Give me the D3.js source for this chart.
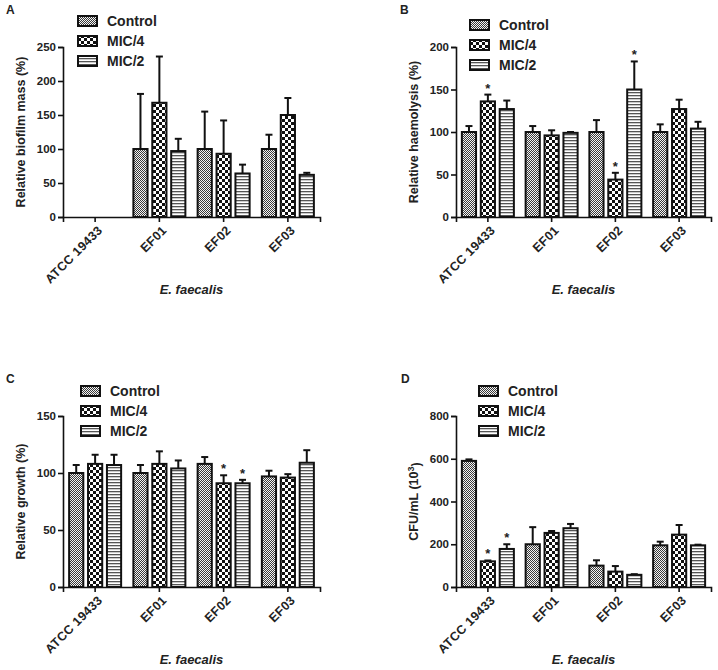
<!DOCTYPE html>
<html>
<head>
<meta charset="utf-8">
<script src="https://cdn.jsdelivr.net/npm/d3@7"></script>
<style>
  body { margin: 0; background: #fff; }
  text { font-family: "Liberation Sans", Arial, sans-serif; fill: #222; }
  .tick text { font-size: 11px; font-weight: bold; }
  .axis-label { font-size: 12.5px; font-weight: bold; }
  .legend text { font-size: 14px; font-weight: bold; }
</style>
</head>
<body>
<svg width="718" height="670"></svg>
<script>
const strains = ['ATCC 19433', 'EF01', 'EF02', 'EF03'];
const groups = ['Control', 'MIC/4', 'MIC/2'];

// values per group: [Control, MIC/4, MIC/2], each across strains
const biofilmMean = [[null, 100, 100, 100], [null, 168, 93, 150], [null, 97, 64, 62]];
const biofilmErr  = [[null, 81, 55, 21], [null, 68, 49, 25], [null, 18, 13, 3]];
const biofilmStar = [];

const haemoMean = [[100, 100, 100, 100], [136, 96, 44, 127], [127, 99, 150, 104]];
const haemoErr  = [[7, 7, 14, 9], [8, 6, 8, 11], [10, 1, 33, 8]];
const haemoStar = [[1, 0], [1, 2], [2, 2]]; // [group, strain]

const growthMean = [[100, 100, 108, 97], [108, 108, 91, 96], [107, 104, 91, 109]];
const growthErr  = [[7, 7, 6, 5], [8, 11, 7, 3], [9, 7, 3, 11]];
const growthStar = [[1, 2], [2, 2]];

const cfuMean = [[590, 200, 100, 195], [120, 253, 72, 245], [178, 275, 57, 195]];
const cfuErr  = [[7, 80, 25, 17], [4, 9, 26, 45], [22, 20, 3, 3]];
const cfuStar = [[1, 0], [2, 0]];

const biofilmTicks = [0, 50, 100, 150, 200, 250];
const haemoTicks = [0, 50, 100, 150, 200];
const growthTicks = [0, 50, 100, 150];
const cfuTicks = [0, 200, 400, 600, 800];

const svg = d3.select('svg');

// fill patterns
const defs = svg.append('defs');
const pCtrl = defs.append('pattern').attr('id', 'pat0')
  .attr('patternUnits', 'userSpaceOnUse').attr('width', 2).attr('height', 2);
pCtrl.append('rect').attr('width', 2).attr('height', 2).attr('fill', '#f4f4f4');
pCtrl.append('rect').attr('width', 1).attr('height', 1).attr('fill', '#3a3a3a');
pCtrl.append('rect').attr('x', 1).attr('y', 1).attr('width', 1).attr('height', 1).attr('fill', '#3a3a3a');

const pMic4 = defs.append('pattern').attr('id', 'pat1')
  .attr('patternUnits', 'userSpaceOnUse').attr('width', 6).attr('height', 6);
pMic4.append('rect').attr('width', 6).attr('height', 6).attr('fill', '#111');
pMic4.append('rect').attr('width', 3).attr('height', 3).attr('fill', '#fff');
pMic4.append('rect').attr('x', 3).attr('y', 3).attr('width', 3).attr('height', 3).attr('fill', '#fff');

const pMic2 = defs.append('pattern').attr('id', 'pat2')
  .attr('patternUnits', 'userSpaceOnUse').attr('width', 3).attr('height', 3);
pMic2.append('rect').attr('width', 3).attr('height', 3).attr('fill', '#fff');
pMic2.append('rect').attr('width', 3).attr('height', 1.3).attr('fill', '#555');

const render = cfg => {
  const { left, top, width, height } = cfg;
  const g = svg.append('g').attr('transform', `translate(${left},${top})`);

  const xScale = d3.scaleBand().domain(strains).range([0, width]);
  const xInner = d3.scaleBand().domain(groups).range([-26, 26]).paddingInner(0.25);
  const yScale = d3.scaleLinear().domain([0, d3.max(cfg.ticks)]).range([height, 0]);

  const yAxis = d3.axisLeft(yScale).tickValues(cfg.ticks).tickSize(5).tickPadding(2);
  const xAxis = d3.axisBottom(xScale).tickSize(5).tickPadding(3);

  const yAxisG = g.append('g').call(yAxis);
  const xAxisG = g.append('g').attr('transform', `translate(0,${height})`).call(xAxis);
  [yAxisG, xAxisG].forEach(a => {
    a.select('.domain').attr('stroke', '#111').attr('stroke-width', 1.6);
    a.selectAll('.tick line').attr('stroke', '#111').attr('stroke-width', 1.6);
  });
  yAxisG.selectAll('.tick text').attr('fill', '#222').style('font-size', '11.5px');
  xAxisG.selectAll('.tick text')
    .attr('fill', '#222')
    .style('font-size', '12.5px')
    .style('letter-spacing', '0.3px')
    .attr('text-anchor', 'end')
    .attr('dy', '0.35em')
    .attr('transform', 'translate(5,11) rotate(-45)')
    .attr('x', 0).attr('y', 0);

  // bars
  groups.forEach((grp, gi) => {
    strains.forEach((s, si) => {
      const v = cfg.mean[gi][si];
      if (v == null) return;
      const e = cfg.err[gi][si];
      const cx = xScale(s) + xScale.bandwidth() / 2;
      const bx = cx + xInner(grp);
      const bw = xInner.bandwidth();
      const mid = bx + bw / 2;
      g.append('line')
        .attr('x1', mid).attr('x2', mid)
        .attr('y1', yScale(v)).attr('y2', yScale(v + e))
        .attr('stroke', '#111').attr('stroke-width', 2);
      g.append('line')
        .attr('x1', mid - 3.5).attr('x2', mid + 3.5)
        .attr('y1', yScale(v + e)).attr('y2', yScale(v + e))
        .attr('stroke', '#111').attr('stroke-width', 2);
      g.append('rect')
        .attr('x', bx).attr('y', yScale(v))
        .attr('width', bw).attr('height', height - yScale(v))
        .attr('fill', `url(#pat${gi})`)
        .attr('stroke', '#111').attr('stroke-width', 2);
    });
  });

  // significance marks
  cfg.stars.forEach(([gi, si]) => {
    const v = cfg.mean[gi][si] + cfg.err[gi][si];
    const cx = xScale(strains[si]) + xScale.bandwidth() / 2 + xInner(groups[gi]) + xInner.bandwidth() / 2;
    g.append('text')
      .attr('x', cx).attr('y', yScale(v) - 2)
      .attr('text-anchor', 'middle')
      .style('font-size', '13px').style('font-weight', 'bold')
      .text('*');
  });

  // axis titles
  const yl = g.append('text')
    .attr('class', 'axis-label')
    .attr('transform', `translate(-38,${height / 2}) rotate(-90)`)
    .attr('text-anchor', 'middle');
  yl.append('tspan').text(cfg.yLabel);
  if (cfg.sup) {
    yl.append('tspan').attr('dy', '-0.45em').style('font-size', '9px').text(cfg.sup);
    yl.append('tspan').attr('dy', '0.45em').text(')');
  }

  g.append('text')
    .attr('class', 'axis-label')
    .attr('x', width / 2).attr('y', height + 77)
    .attr('text-anchor', 'middle')
    .style('font-style', 'italic')
    .style('font-size', '13px')
    .text('E. faecalis');

  // panel letter
  g.append('text')
    .attr('x', cfg.letterX - left).attr('y', cfg.letterY - top)
    .style('font-size', '12px').style('font-weight', 'bold')
    .text(cfg.letter);

  // legend
  const lg = svg.append('g').attr('class', 'legend')
    .attr('transform', `translate(${cfg.legendX},${cfg.legendY})`);
  groups.forEach((grp, gi) => {
    const row = lg.append('g').attr('transform', `translate(0,${gi * 20})`);
    row.append('rect')
      .attr('x', 0).attr('y', -5).attr('width', 19).attr('height', 10)
      .attr('fill', `url(#pat${gi})`)
      .attr('stroke', '#111').attr('stroke-width', 2);
    row.append('text')
      .attr('x', 29).attr('y', 5)
      .text(grp);
  });
};

render({ left: 63, top: 47, width: 257, height: 170, ticks: biofilmTicks,
  mean: biofilmMean, err: biofilmErr, stars: biofilmStar,
  yLabel: 'Relative biofilm mass (%)', letter: 'A', letterX: 6, letterY: 14,
  legendX: 78, legendY: 21 });

render({ left: 456, top: 47, width: 255, height: 170, ticks: haemoTicks,
  mean: haemoMean, err: haemoErr, stars: haemoStar,
  yLabel: 'Relative haemolysis (%)', letter: 'B', letterX: 400, letterY: 14,
  legendX: 470, legendY: 25 });

render({ left: 63, top: 416, width: 257, height: 171, ticks: growthTicks,
  mean: growthMean, err: growthErr, stars: growthStar,
  yLabel: 'Relative growth (%)', letter: 'C', letterX: 6, letterY: 383,
  legendX: 81, legendY: 391 });

render({ left: 456, top: 416, width: 255, height: 171, ticks: cfuTicks,
  mean: cfuMean, err: cfuErr, stars: cfuStar,
  yLabel: 'CFU/mL (10', sup: '3', letter: 'D', letterX: 401, letterY: 383,
  legendX: 479, legendY: 391 });
</script>
</body>
</html>
